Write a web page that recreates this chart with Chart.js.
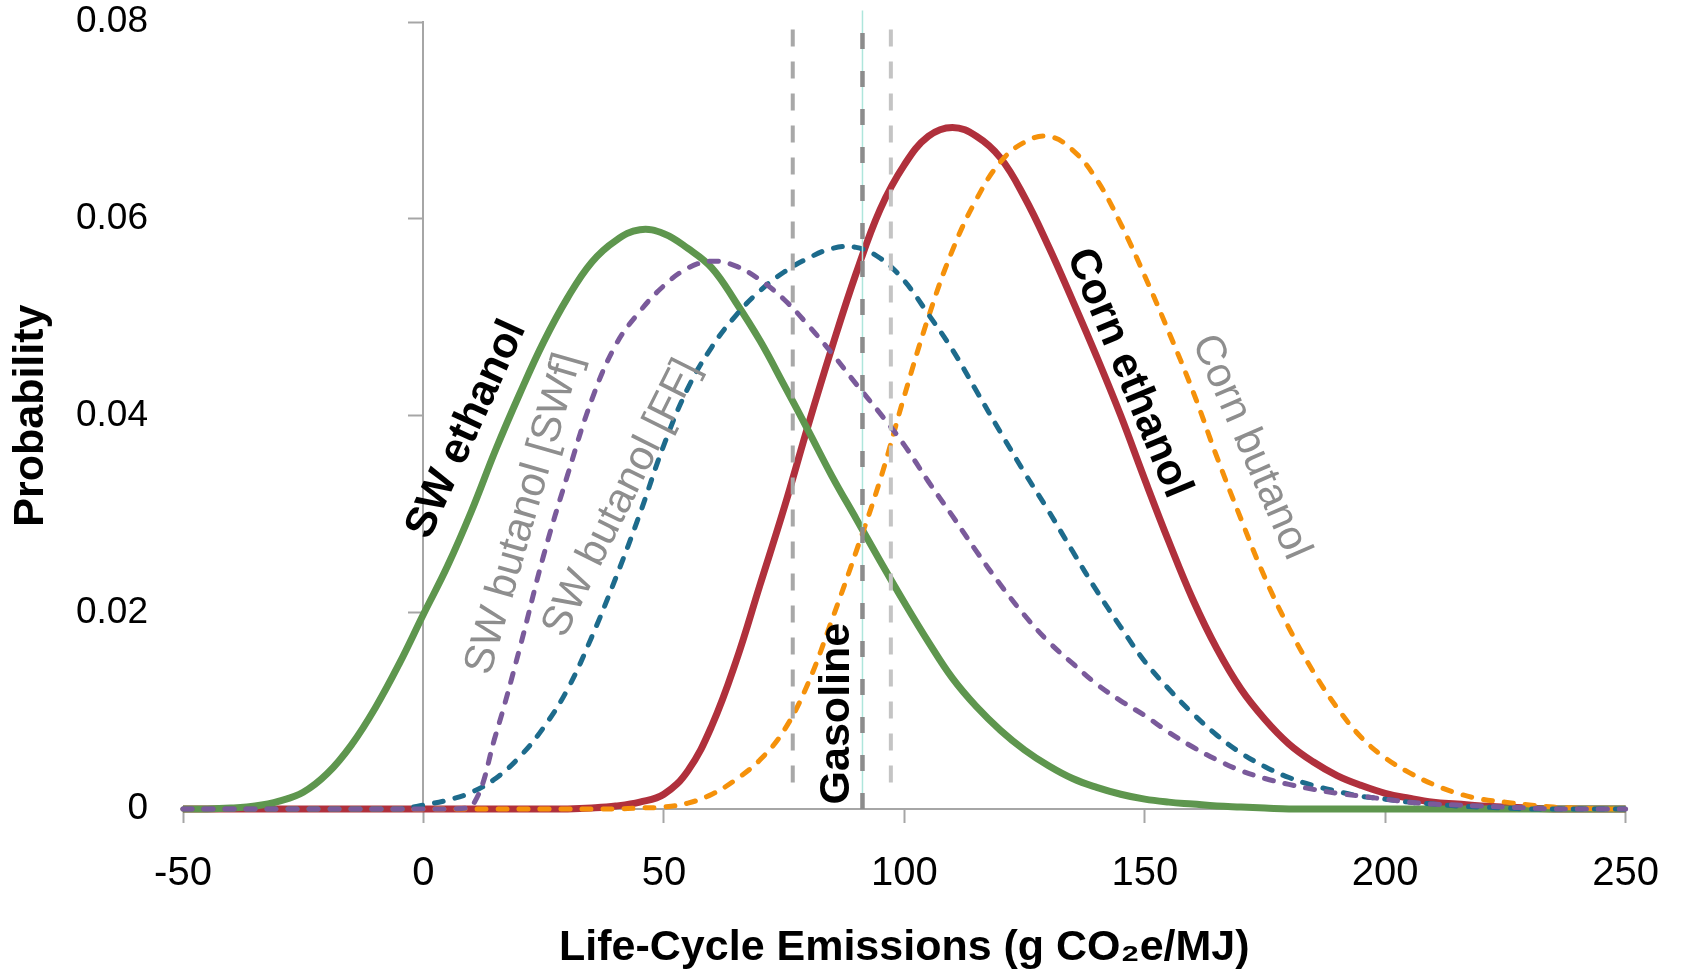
<!DOCTYPE html>
<html lang="en">
<head>
    <meta charset="UTF-8">
    <title>Life-Cycle Emissions</title>
    <script src="https://cdn.jsdelivr.net/npm/chart.js@4.4.1/dist/chart.umd.min.js"></script>
    <style>
        body { margin: 0; background: #fff; }
        #chart { display: block; }
    </style>
</head>
<body>
    <canvas id="chart" width="1686" height="975"></canvas>
<script>
    // emissions (g CO2e/MJ) at which each curve was read
    const emissions = [-50,-45,-40,-35,-30,-25,-20,-15,-10,-5,0,5,10,15,20,25,30,35,40,45,50,55,60,65,70,75,80,85,90,95,
        100,105,110,115,120,125,130,135,140,145,150,155,160,165,170,175,180,185,190,195,200,205,210,215,220,225,230,235,240,245,250];

    const swEthanol = [0,0,0.0001,0.0003,0.0008,0.0017,0.0036,0.0065,0.0103,0.0148,0.0198,0.0247,0.0303,0.0365,0.0422,0.0475,
        0.0520,0.0556,0.0578,0.0589,0.0585,0.0570,0.0550,0.0515,0.0476,0.0431,0.0385,0.0338,0.0295,0.0252,0.0210,0.0170,
        0.0133,0.0104,0.0080,0.0060,0.0044,0.0031,0.0022,0.0015,0.0010,0.0007,0.0005,0.0003,0.0002,0.0001,
        0,0,0,0,0,0,0,0,0,0,0,0,0,0,0];

    const swButanolSWf = [0,0,0,0,0,0,0,0,0,0,0,0,0.0002,0.0075,0.0163,0.0258,0.0340,0.0416,0.0472,0.0506,0.0532,0.0550,
        0.0557,0.0552,0.0538,0.0518,0.0492,0.0463,0.0432,0.0402,0.0370,0.0333,0.0298,0.0262,0.0228,0.0197,0.0170,0.0148,
        0.0127,0.0110,0.0095,0.0078,0.0063,0.0050,0.0039,0.0031,0.0025,0.0020,0.0016,0.0013,0.0010,0.0007,0.0005,0.0004,
        0.0003,0.0002,0.0001,0,0,0,0];

    const swButanolFF = [0,0,0,0,0,0,0,0,0,0,0.0004,0.0009,0.0017,0.0031,0.0053,0.0083,0.0122,0.0175,0.0235,0.0300,0.0370,
        0.0428,0.0470,0.0502,0.0527,0.0546,0.0560,0.0570,0.0571,0.0560,0.0537,0.0503,0.0467,0.0425,0.0383,0.0342,0.0303,
        0.0262,0.0222,0.0185,0.0150,0.0122,0.0097,0.0075,0.0057,0.0043,0.0032,0.0024,0.0018,0.0013,0.0010,0.0007,0.0005,
        0.0003,0.0002,0.0001,0,0,0,0,0];

    const cornEthanol = [0,0,0,0,0,0,0,0,0,0,0,0,0,0,0,0,0,0.0001,0.0003,0.0007,0.0015,0.0039,0.0085,0.0150,0.0228,0.0306,
        0.0390,0.0470,0.0545,0.0610,0.0655,0.0684,0.0693,0.0684,0.0662,0.0622,0.0572,0.0517,0.0460,0.0400,0.0335,0.0272,
        0.0213,0.0163,0.0122,0.0091,0.0066,0.0048,0.0034,0.0024,0.0016,0.0011,0.0007,0.0005,0.0003,0.0002,0.0001,0,0,0,0];

    const cornButanol = [0,0,0,0,0,0,0,0,0,0,0,0,0,0,0,0,0,0,0,0.0001,0.0002,0.0006,0.0015,0.0030,0.0050,0.0080,0.0128,
        0.0193,0.0262,0.0335,0.0420,0.0500,0.0568,0.0620,0.0658,0.0678,0.0684,0.0670,0.0640,0.0595,0.0542,0.0485,0.0425,
        0.0358,0.0295,0.0235,0.0184,0.0140,0.0103,0.0073,0.0052,0.0037,0.0025,0.0016,0.0010,0.0007,0.0004,0.0002,0.0001,0,0];

    // gasoline: low, mean, high
    const gasoline = [76.8, 91.3, 97.2];

    const xTicks = [-50, 0, 50, 100, 150, 200, 250];
    const yTicks = [0, 0.02, 0.04, 0.06, 0.08];

    // rotated text next to the curves (data coordinates, degrees)
    const curveLabels = [
        { text: 'SW ethanol',       x: 9.0,   y: 0.0386, angle: -65.5, bold: true },
        { text: 'SW butanol [SWf]', x: 21.0,  y: 0.0300, angle: -74,   bold: false },
        { text: 'SW butanol [FF]',  x: 41.2,  y: 0.0316, angle: -63.5, bold: false },
        { text: 'Gasoline',         x: 86.0,  y: 0.0097, angle: -90,   bold: true },
        { text: 'Corn ethanol',     x: 146.6, y: 0.0443, angle: 67.5,  bold: true },
        { text: 'Corn butanol',     x: 172.0, y: 0.0368, angle: 66.5,  bold: false }
    ];

    const FONT = "'Liberation Sans', Arial, sans-serif";
    const AXIS_GRAY = '#a6a6a6';

    function points(values) {
        return emissions.map((e, i) => ({ x: e, y: values[i] }));
    }

    function curve(values, color, width, dashed) {
        return {
            data: points(values),
            borderColor: color,
            borderWidth: width,
            borderDash: dashed ? [9, 12] : [],
            borderCapStyle: dashed ? 'round' : 'butt',
            pointRadius: 0,
            tension: 0.4,
            clip: false
        };
    }

    function vline(xv, y0, y1, color, width, dash) {
        return {
            data: [{ x: xv, y: y0 }, { x: xv, y: y1 }],
            borderColor: color,
            borderWidth: width,
            borderDash: dash,
            pointRadius: 0,
            clip: false
        };
    }

    // draws the curve names
    const labelPlugin = {
        id: 'labelPlugin',
        afterDatasetsDraw(chart) {
            const { ctx, scales: { x, y } } = chart;
            curveLabels.forEach(l => {
                ctx.save();
                ctx.translate(x.getPixelForValue(l.x), y.getPixelForValue(l.y));
                ctx.rotate(l.angle * Math.PI / 180);
                ctx.font = (l.bold ? 'bold 43px ' : '42px ') + FONT;
                ctx.fillStyle = l.bold ? '#000' : '#8e8e8e';
                ctx.textAlign = 'center';
                ctx.textBaseline = 'middle';
                ctx.fillText(l.text, 0, 0);
                ctx.restore();
            });
        }
    };

    const datasets = [
        vline(gasoline[1], 0, 0.0800, '#8c8c8c', 4.5, [16, 22]),
        vline(gasoline[0], 0.0027, 0.0807, '#a8a8a8', 4, [17, 15]),
        vline(gasoline[2], 0.0027, 0.0807, '#c4c4c4', 4, [17, 15]),
        vline(gasoline[1], 0, 0.0812, '#aee6dc', 1.5, []),
        curve(swButanolSWf, '#7a5a9b', 5, true),
        curve(swButanolFF, '#1d6b8c', 5, true),
        curve(cornButanol, '#f5910a', 5, true),
        curve(swEthanol, '#5e964e', 7, false),
        curve(cornEthanol, '#b0303c', 7, false)
    ];

    const config = {
        type: 'line',
        data: { datasets: datasets },
        options: {
            responsive: false,
            animation: false,
            layout: { padding: { left: 0, right: 55, top: 22, bottom: 0 } },
            plugins: { legend: { display: false }, tooltip: { enabled: false } },
            scales: {
                x: {
                    type: 'linear',
                    min: -50,
                    max: 250,
                    afterBuildTicks: s => { s.ticks = xTicks.map(v => ({ value: v })); },
                    border: { color: AXIS_GRAY, width: 2 },
                    grid: { drawOnChartArea: false, tickLength: 14, tickColor: AXIS_GRAY, tickWidth: 2 },
                    ticks: { font: { family: FONT, size: 40 }, color: '#000', padding: 27, maxRotation: 0, autoSkip: false },
                    title: {
                        display: true,
                        text: 'Life-Cycle Emissions (g CO\u2082e/MJ)',
                        font: { family: FONT, size: 43, weight: 'bold' },
                        color: '#000',
                        padding: { top: 0, bottom: 1 }
                    },
                    afterFit: s => { s.height = 166; }
                },
                y: {
                    min: 0,
                    max: 0.08,
                    position: 'left',
                    afterBuildTicks: s => { s.ticks = yTicks.map(v => ({ value: v })); },
                    border: { display: false },
                    // invisible tick marks give the gap between labels and plot
                    grid: { display: false, drawTicks: true, tickLength: 35 },
                    ticks: {
                        font: { family: FONT, size: 37 },
                        color: '#000',
                        padding: 0,
                        callback: v => v === 0 ? '0' : v.toFixed(2)
                    },
                    title: {
                        display: true,
                        text: 'Probability',
                        font: { family: FONT, size: 43, weight: 'bold' },
                        color: '#000',
                        padding: { top: 5, bottom: 0 }
                    },
                    afterFit: s => { s.width = 183; }
                },
                // vertical axis line drawn at x = 0
                y2: {
                    axis: 'y',
                    min: 0,
                    max: 0.08,
                    position: { x: 0 },
                    afterBuildTicks: s => { s.ticks = yTicks.map(v => ({ value: v })); },
                    border: { color: AXIS_GRAY, width: 2 },
                    grid: { drawOnChartArea: false, tickLength: 14, tickColor: AXIS_GRAY, tickWidth: 2 },
                    ticks: { display: false, padding: 0 }
                }
            }
        },
        plugins: [labelPlugin]
    };

    const myChart = new Chart(document.getElementById('chart'), config);
</script>
</body>
</html>
